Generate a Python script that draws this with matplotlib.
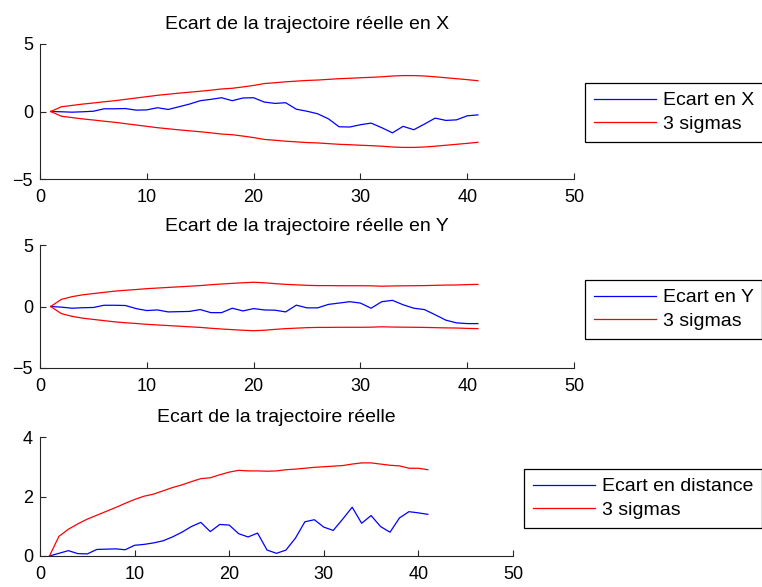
import matplotlib
matplotlib.use("Agg")
import matplotlib.pyplot as plt

plt.rcParams["font.family"] = ["Liberation Sans", "DejaVu Sans"]

steps = list(range(1, 42))

ecart_x = [0.0, -0.02, -0.05, -0.02, 0.02, 0.2, 0.2, 0.22, 0.1, 0.12,
           0.28, 0.15, 0.35, 0.55, 0.8, 0.9, 1.02, 0.8, 1.0, 1.02,
           0.7, 0.6, 0.65, 0.17, 0.02, -0.17, -0.54, -1.13, -1.15, -0.98,
           -0.86, -1.2, -1.58, -1.1, -1.35, -0.93, -0.49, -0.66, -0.62, -0.32,
           -0.25]
sigma_x = [0.0, 0.35, 0.45, 0.55, 0.63, 0.72, 0.8, 0.9, 1.0, 1.1,
           1.2, 1.28, 1.36, 1.43, 1.5, 1.58, 1.67, 1.72, 1.82, 1.93,
           2.07, 2.13, 2.2, 2.25, 2.3, 2.33, 2.38, 2.43, 2.46, 2.5,
           2.53, 2.57, 2.63, 2.66, 2.66, 2.63, 2.57, 2.5, 2.43, 2.36,
           2.28]

ecart_y = [0.0, -0.05, -0.14, -0.1, -0.08, 0.1, 0.1, 0.08, -0.17, -0.33,
           -0.28, -0.44, -0.42, -0.4, -0.25, -0.5, -0.5, -0.14, -0.36, -0.17,
           -0.28, -0.3, -0.44, 0.11, -0.11, -0.11, 0.17, 0.28, 0.39, 0.28,
           -0.14, 0.39, 0.5, 0.14, -0.14, -0.25, -0.67, -1.11, -1.33, -1.39,
           -1.39]
sigma_y = [0.0, 0.58, 0.8, 0.95, 1.05, 1.15, 1.25, 1.32, 1.38, 1.45,
           1.5, 1.55, 1.6, 1.65, 1.7, 1.77, 1.83, 1.88, 1.93, 1.97,
           1.93, 1.86, 1.8, 1.76, 1.72, 1.7, 1.7, 1.69, 1.69, 1.69,
           1.68, 1.65, 1.67, 1.68, 1.69, 1.7, 1.72, 1.74, 1.75, 1.78,
           1.8]

ecart_d = [0.0, 0.09, 0.18, 0.08, 0.07, 0.22, 0.23, 0.24, 0.21, 0.36,
           0.39, 0.44, 0.51, 0.64, 0.8, 0.99, 1.13, 0.82, 1.06, 1.04,
           0.75, 0.64, 0.77, 0.2, 0.09, 0.2, 0.6, 1.15, 1.22, 0.97,
           0.86, 1.24, 1.64, 1.1, 1.36, 0.99, 0.8, 1.28, 1.49, 1.45,
           1.4]
sigma_d = [0.0, 0.66, 0.9, 1.08, 1.24, 1.37, 1.5, 1.63, 1.77, 1.9,
           2.01, 2.08, 2.19, 2.3, 2.39, 2.5, 2.6, 2.63, 2.73, 2.82,
           2.88, 2.86, 2.86, 2.85, 2.86, 2.9, 2.92, 2.95, 2.98, 3.0,
           3.02, 3.04, 3.09, 3.13, 3.13, 3.09, 3.05, 3.03, 2.95, 2.95,
           2.9]

W, H = 762, 587


def box(left, top, right, bottom):
    return [left / W, 1 - bottom / H, (right - left) / W, (bottom - top) / H]


def style(axis, ylim, yticks):
    axis.set_xlim(0, 50)
    axis.set_xticks([0, 10, 20, 30, 40, 50])
    axis.set_ylim(*ylim)
    axis.set_yticks(yticks)
    axis.spines["top"].set_visible(False)
    axis.spines["right"].set_visible(False)
    for side in ["left", "bottom"]:
        axis.spines[side].set_color("#262626")
        axis.spines[side].set_linewidth(0.8)
    axis.tick_params(direction="in", length=4, width=0.8, labelsize=13, color="#262626")
    axis.tick_params(axis="x", pad=7)
    axis.tick_params(axis="y", pad=5)


def add_legend(axis, left, top):
    leg = axis.legend(loc="upper left", bbox_to_anchor=(left / W, 1 - top / H),
                      bbox_transform=fig.transFigure, borderaxespad=0,
                      fontsize=14, fancybox=False, framealpha=1, edgecolor="black",
                      handlelength=3.2, handletextpad=0.35, borderpad=0.45,
                      labelspacing=0.3)
    leg.get_frame().set_linewidth(0.9)


fig = plt.figure(figsize=(W / 100, H / 100), dpi=100)

ax1 = fig.add_axes(box(40, 44, 574, 179))
ax1.plot(steps, ecart_x, color="#0000ff", lw=0.9, label="Ecart en X")
ax1.plot(steps, sigma_x, color="#ff0000", lw=0.9, label="3 sigmas")
ax1.plot(steps, [-v for v in sigma_x], color="#ff0000", lw=0.9)
style(ax1, (-5, 5), [-5, 0, 5])
ax1.set_title("Ecart de la trajectoire réelle en X", fontsize=14, pad=11)
add_legend(ax1, 585, 83)

ax2 = fig.add_axes(box(40, 245, 574, 368))
ax2.plot(steps, ecart_y, color="#0000ff", lw=0.9, label="Ecart en Y")
ax2.plot(steps, sigma_y, color="#ff0000", lw=0.9, label="3 sigmas")
ax2.plot(steps, [-v for v in sigma_y], color="#ff0000", lw=0.9)
style(ax2, (-5, 5), [-5, 0, 5])
ax2.set_title("Ecart de la trajectoire réelle en Y", fontsize=14, pad=10)
add_legend(ax2, 585, 280)

ax3 = fig.add_axes(box(40, 437, 513, 556))
ax3.plot(steps, ecart_d, color="#0000ff", lw=0.9, label="Ecart en distance")
ax3.plot(steps, sigma_d, color="#ff0000", lw=0.9, label="3 sigmas")
style(ax3, (0, 4), [0, 2, 4])
ax3.set_title("Ecart de la trajectoire réelle", fontsize=14, pad=11)
add_legend(ax3, 524, 469)

fig.savefig("out.png", dpi=100)
